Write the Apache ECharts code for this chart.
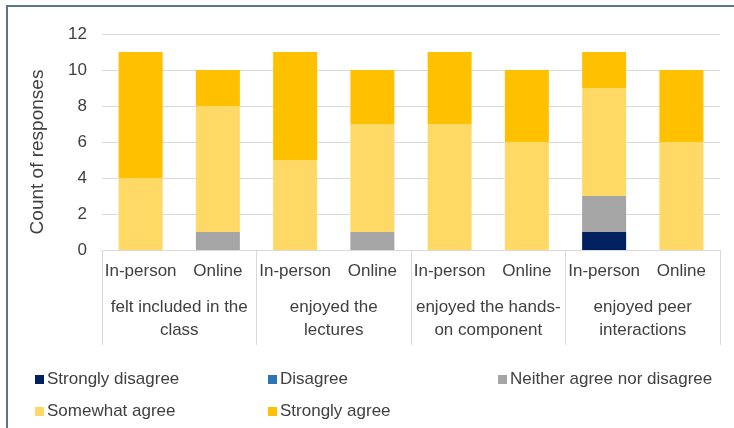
<!DOCTYPE html>
<html>
<head>
<meta charset="utf-8">
<script src="https://cdn.jsdelivr.net/npm/echarts@6/dist/echarts.min.js"></script>
<style>
html,body{margin:0;padding:0;background:#fff;}
#frame{position:absolute;left:6px;top:5px;width:800px;height:500px;border-left:2px solid #5a7590;border-top:2px solid #5a7590;}
#chart{position:absolute;left:0;top:0;width:734px;height:428px;}
</style>
</head>
<body>
<div id="frame"></div>
<div id="chart"></div>
<script>
const subCategories = ['In-person','Online','In-person','Online','In-person','Online','In-person','Online'];
const groups = ['felt included in the\nclass','enjoyed the\nlectures','enjoyed the hands-\non component','enjoyed peer\ninteractions'];
const yTicks = [0,2,4,6,8,10,12];
const seriesNames = ['Strongly disagree','Disagree','Neither agree nor disagree','Somewhat agree','Strongly agree'];
const stronglyDisagree = [0,0,0,0,0,0,1,0];
const disagree         = [0,0,0,0,0,0,0,0];
const neither          = [0,1,0,1,0,0,2,0];
const somewhatAgree    = [4,7,5,6,7,6,6,6];
const stronglyAgree    = [7,2,6,3,4,4,2,4];
const colors = ['#002060','#2e75b6','#a5a5a5','#ffd966','#ffc000'];

const values = [stronglyDisagree, disagree, neither, somewhatAgree, stronglyAgree];
const font = 'Liberation Sans, Arial, sans-serif';
const txt = '#404040';

const chart = echarts.init(document.getElementById('chart'));
const legendCommon = {
  orient: 'vertical', top: 366, itemGap: 15, itemWidth: 9, itemHeight: 9, icon: 'rect',
  textStyle: {fontFamily: font, fontSize: 17, color: txt, padding: [0,0,0,-2]},
  selectedMode: false
};
chart.setOption({
  animation: false,
  color: colors,
  grid: {left: 102, right: 14, top: 34, bottom: 178, containLabel: false},
  legend: [
    Object.assign({}, legendCommon, {left: 30, data: [seriesNames[0], seriesNames[3]]}),
    Object.assign({}, legendCommon, {left: 263, data: [seriesNames[1], seriesNames[4]]}),
    Object.assign({}, legendCommon, {left: 493, data: [seriesNames[2]]})
  ],
  xAxis: [
    {
      type: 'category', data: subCategories, position: 'bottom',
      axisLine: {show: true, lineStyle: {color: '#d9d9d9', width: 1}},
      axisTick: {show: false},
      axisLabel: {interval: 0, margin: 13, fontFamily: font, fontSize: 17, color: txt}
    },
    {
      type: 'category', data: groups, position: 'bottom', gridIndex: 0,
      axisLine: {show: false},
      axisTick: {show: true, length: 95, interval: 0, lineStyle: {color: '#d9d9d9'}},
      axisLabel: {interval: 0, margin: 46, fontFamily: font, fontSize: 17, color: txt, lineHeight: 23}
    }
  ],
  yAxis: {
    type: 'value', min: 0, max: 12, interval: 2,
    name: 'Count of responses', nameLocation: 'middle', nameGap: 55,
    nameTextStyle: {fontFamily: font, fontSize: 19, color: txt, padding: [0, 20, 0, 0]},
    axisLine: {show: false}, axisTick: {show: false},
    axisLabel: {margin: 15, fontFamily: font, fontSize: 17, color: txt,
      formatter: v => yTicks.includes(v) ? String(v) : ''},
    splitLine: {lineStyle: {color: '#d9d9d9'}}
  },
  series: seriesNames.map((n, i) => ({
    name: n, type: 'bar', stack: 'total', xAxisIndex: 0, barWidth: 44,
    data: values[i], itemStyle: {color: colors[i]}
  }))
});
</script>
</body>
</html>
